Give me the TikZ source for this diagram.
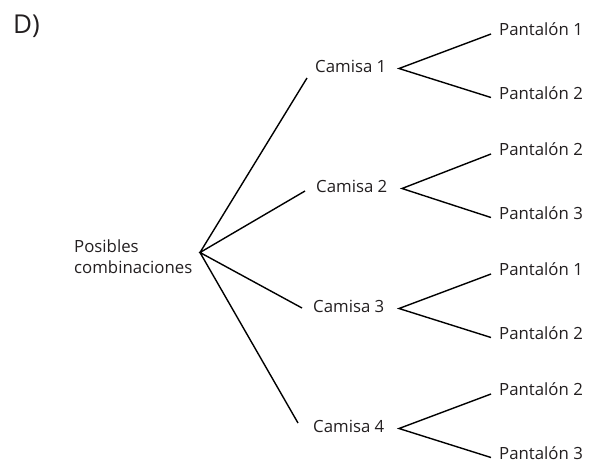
\documentclass[tikz,border=0pt]{standalone}
\usepackage{fontspec}
\setmainfont{Open Sans}
\definecolor{txt}{HTML}{231F20}
\begin{document}
\begin{tikzpicture}[x=1pt,y=-1pt,
  lbl/.style={inner sep=0pt, text=txt, font=\fontsize{16.8}{21}\selectfont, anchor=base west},
  edge/.style={draw=black, line width=1.4pt}]
\useasboundingbox (0,0) rectangle (602,464);
\node[lbl, font=\fontsize{26}{30}\selectfont] (D) at (13,33) {D)};
\node[lbl, align=left] (root) at (74,273.3) {Posibles\\combinaciones};
\coordinate (r) at (200,252.5);
\node[lbl] (c1) at (315,72.5) {Camisa 1};
\node[lbl] (c2) at (316,192.5) {Camisa 2};
\node[lbl] (c3) at (313,312.5) {Camisa 3};
\node[lbl] (c4) at (313,432.5) {Camisa 4};
\coordinate (c1in) at (307,78);
\coordinate (c2in) at (305,191);
\coordinate (c3in) at (302,308);
\coordinate (c4in) at (298,423);
\coordinate (c1v) at (399,68.5);
\coordinate (c2v) at (402,188.5);
\coordinate (c3v) at (399,308.5);
\coordinate (c4v) at (399,428.5);
\node[lbl] (p11) at (499,35.3) {Pantalón 1};
\node[lbl] (p12) at (499,99.5) {Pantalón 2};
\node[lbl] (p22) at (499,155.3) {Pantalón 2};
\node[lbl] (p23) at (499,219.5) {Pantalón 3};
\node[lbl] (p31) at (499,275.3) {Pantalón 1};
\node[lbl] (p32) at (499,339.5) {Pantalón 2};
\node[lbl] (p42) at (499,395.3) {Pantalón 2};
\node[lbl] (p43) at (499,459.5) {Pantalón 3};
\coordinate (e11) at (491,34);
\coordinate (e12) at (491,97.5);
\coordinate (e22) at (491,154);
\coordinate (e23) at (491,217.5);
\coordinate (e31) at (491,274);
\coordinate (e32) at (491,337.5);
\coordinate (e42) at (491,394);
\coordinate (e43) at (491,457.5);
\draw[edge] (c1in) -- (r) -- (c4in);
\draw[edge] (c2in) -- (r) -- (c3in);
\draw[edge] (e11) -- (c1v) -- (e12);
\draw[edge] (e22) -- (c2v) -- (e23);
\draw[edge] (e31) -- (c3v) -- (e32);
\draw[edge] (e42) -- (c4v) -- (e43);
\end{tikzpicture}
\end{document}
